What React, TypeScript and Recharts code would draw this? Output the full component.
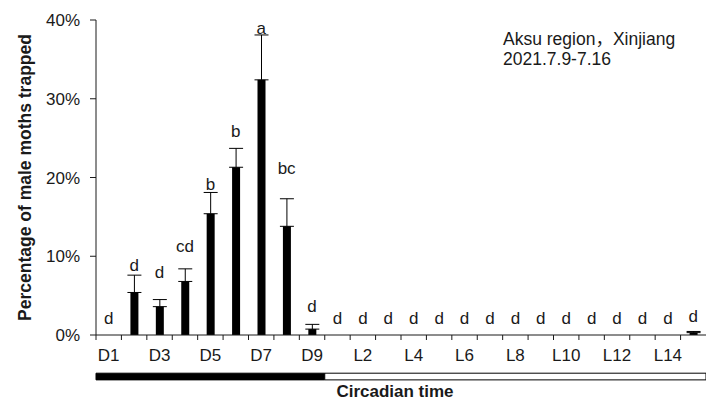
import React from 'react';
import { ComposedChart, Bar, XAxis, YAxis, ErrorBar, Line, LabelList, ReferenceArea, Label } from 'recharts';

const categories = ['D1', 'D2', 'D3', 'D4', 'D5', 'D6', 'D7', 'D8', 'D9',
  'L1', 'L2', 'L3', 'L4', 'L5', 'L6', 'L7', 'L8', 'L9', 'L10', 'L11', 'L12', 'L13', 'L14', 'L15'];
const percentTrapped = [0, 5.4, 3.6, 6.8, 15.4, 21.3, 32.4, 13.8, 0.75,
  0, 0, 0, 0, 0, 0, 0, 0, 0, 0, 0, 0, 0, 0, 0.3];
const stdError = [0, 2.2, 0.9, 1.6, 2.7, 2.4, 5.7, 3.5, 0.6,
  0, 0, 0, 0, 0, 0, 0, 0, 0, 0, 0, 0, 0, 0, 0.15];
const letters = ['d', 'd', 'd', 'cd', 'b', 'b', 'a', 'bc', 'd',
  'd', 'd', 'd', 'd', 'd', 'd', 'd', 'd', 'd', 'd', 'd', 'd', 'd', 'd', 'd'];
// level (in %) at which each significance letter sits
const letterHeights = [1.4, 8.1, 7.3, 10.6, 18.4, 25.2, 38.2, 20.4, 2.95,
  1.35, 1.35, 1.35, 1.35, 1.35, 1.35, 1.35, 1.35, 1.35, 1.35, 1.35, 1.35, 1.35, 1.35, 1.6];
const yTicks = [0, 10, 20, 30, 40];
const darkPhase = ['D1', 'D9'];
const lightPhase = ['L1', 'L15'];
const phaseBand = [-4.85, -5.7];

const data = categories.map((c, i) => ({
  name: c,
  value: percentTrapped[i],
  err: [0, stdError[i]],
  letter: letters[i],
  letterY: letterHeights[i],
}));

const FONT = '"Liberation Sans", Arial, Helvetica, sans-serif';
const TICK_SIZE = 6;
const TICK_MARGIN = 8;
const INK = '#1a1a1a';

function XTick(props: any) {
  const { x, y, payload, index } = props;
  const axisY = y - TICK_SIZE - TICK_MARGIN;
  const half = payload && typeof payload.offset === 'number' && payload.offset > 0 ? payload.offset : 12.7;
  return (
    <g>
      <line x1={x - half} x2={x - half} y1={axisY} y2={axisY + 5} stroke={INK} strokeWidth={1} />
      {index % 2 === 0 && (
        <text x={x} y={axisY + 26} textAnchor="middle" fontFamily={FONT} fontSize={17} fill={INK}>
          {payload.value}
        </text>
      )}
    </g>
  );
}

function YTitle(props: any) {
  const vb = props.viewBox || { x: 0, y: 20, width: 96, height: 315 };
  const cx = vb.x + 25;
  const cy = vb.y + vb.height / 2;
  return (
    <text x={cx} y={cy} transform={`rotate(-90, ${cx}, ${cy})`} textAnchor="middle" dominantBaseline="central"
      fontFamily={FONT} fontSize={17.5} fontWeight="bold" fill={INK}>
      Percentage of male moths trapped
    </text>
  );
}

function XTitle(props: any) {
  const vb = props.viewBox || { x: 96, y: 335, width: 610, height: 70 };
  return (
    <text x={vb.x + vb.width / 2 - 6} y={vb.y + 62} textAnchor="middle"
      fontFamily={FONT} fontSize={17} fontWeight="bold" fill={INK}>
      Circadian time
    </text>
  );
}

export default function App() {
  return (
    <div style={{ position: 'absolute', left: 0, top: 0, width: 706, height: 405, background: '#fff', fontFamily: FONT }}>
      <ComposedChart width={706} height={405} data={data} margin={{ top: 20, right: 0, bottom: 0, left: 0 }}>
        <XAxis dataKey="name" height={70} interval={0} tickLine={false} tickSize={TICK_SIZE} tickMargin={TICK_MARGIN}
          axisLine={{ stroke: INK }} tick={<XTick />}>
          <Label content={<XTitle />} />
        </XAxis>
        <YAxis width={96} domain={[0, 40]} ticks={yTicks} allowDataOverflow
          tickFormatter={(v: number) => `${v}%`} tickSize={6} tickMargin={10}
          axisLine={{ stroke: INK }} tickLine={{ stroke: INK }}
          tick={{ fill: INK, fontSize: 17, fontFamily: FONT }}>
          <Label content={<YTitle />} />
        </YAxis>
        <ReferenceArea x1={darkPhase[0]} x2={darkPhase[1]} y1={phaseBand[0]} y2={phaseBand[1]}
          ifOverflow="visible" fill="#000" fillOpacity={1} stroke="#000" />
        <ReferenceArea x1={lightPhase[0]} x2={lightPhase[1]} y1={phaseBand[0]} y2={phaseBand[1]}
          ifOverflow="visible" fill="#fff" fillOpacity={1} stroke="#000" strokeWidth={1} />
        <Bar dataKey="value" fill="#000" barSize={8} isAnimationActive={false}>
          <ErrorBar dataKey="err" direction="y" width={7} stroke="#000" strokeWidth={1} />
        </Bar>
        <Line dataKey="letterY" stroke="none" dot={false} activeDot={false} isAnimationActive={false} legendType="none">
          <LabelList dataKey="letter" position="top" offset={0} fill={INK} fontSize={17} fontFamily={FONT} />
        </Line>
      </ComposedChart>
      <div style={{ position: 'absolute', left: 503, top: 29, fontSize: 17.5, lineHeight: '20px', color: INK,
        fontFamily: '"Liberation Sans", Arial, "Noto Sans CJK SC", sans-serif', whiteSpace: 'nowrap' }}>
        <div>Aksu region，Xinjiang</div>
        <div>2021.7.9-7.16</div>
      </div>
    </div>
  );
}
